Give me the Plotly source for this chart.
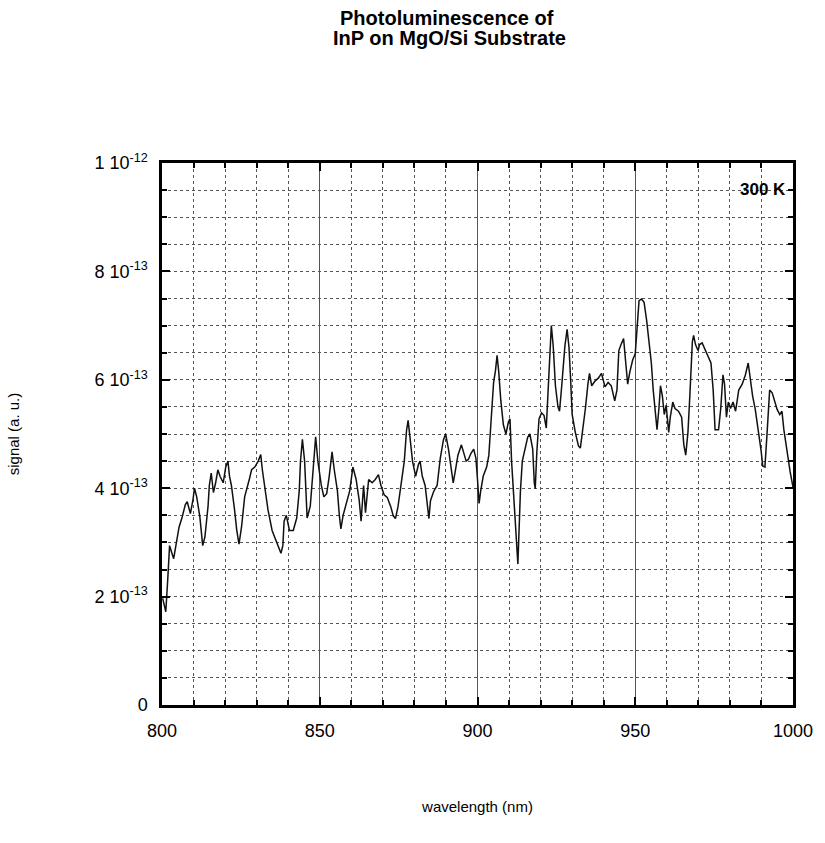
import plotly.graph_objects as go

# wavelength (nm)
wavelength = [800.2, 801.2, 801.8, 802.4, 803.7, 804.4, 805.4, 806.4, 807.4, 808.0, 809.0, 809.8, 810.3, 811.0, 812.0,
              812.9, 813.6, 814.6, 815.0, 815.6, 816.3, 817.0, 817.7, 818.4, 819.4, 820.2, 820.9, 821.4, 822.0, 823.0,
              823.7, 824.4, 825.2, 826.2, 827.0, 827.7, 828.4, 829.4, 830.5, 831.3, 831.8, 832.5, 833.6, 834.9, 836.0,
              837.0, 837.7, 838.3, 838.7, 839.4, 840.4, 841.6, 842.7, 843.5, 843.9, 844.5, 845.2, 846.0, 847.0, 847.9,
              848.7, 849.4, 850.5, 851.3, 852.2, 853.0, 853.9, 854.6, 855.6, 856.2, 856.7, 857.4, 858.2, 859.5, 860.5,
              861.5, 862.5, 863.1, 863.9, 864.5, 865.5, 866.6, 867.6, 868.6, 869.4, 870.4, 871.4, 872.5, 873.3, 874.0,
              874.8, 875.8, 876.8, 877.5, 878.0, 878.6, 879.4, 880.4, 881.3, 881.8, 882.5, 883.4, 884.1, 884.6, 885.1,
              886.1, 887.2, 888.2, 889.2, 889.9, 890.8, 891.6, 892.3, 893.0, 893.8, 894.9, 895.7, 896.4, 897.1, 897.9,
              898.8, 899.5, 900.0, 900.5, 901.0, 901.8, 902.9, 903.6, 904.1, 904.6, 905.1, 905.7, 906.2, 906.7, 907.4,
              908.2, 909.0, 909.8, 910.3, 910.8, 911.3, 911.8, 912.3, 912.8, 913.1, 913.6, 914.2, 914.9, 915.9, 916.6,
              917.5, 918.0, 918.3, 918.8, 919.5, 920.3, 921.1, 921.8, 922.4, 922.9, 923.4, 924.0, 924.7, 925.5, 926.0,
              926.7, 927.7, 928.4, 929.0, 929.5, 930.0, 931.0, 932.0, 932.6, 933.3, 934.2, 935.0, 935.5, 936.2, 937.3,
              938.3, 939.3, 940.4, 941.4, 942.4, 943.5, 944.2, 944.8, 945.5, 946.3, 946.9, 947.6, 948.3, 949.2, 950.0,
              950.5, 951.2, 952.0, 952.8, 953.6, 954.3, 955.1, 955.7, 956.4, 956.9, 957.5, 958.0, 958.6, 959.2, 959.8,
              960.6, 961.1, 961.9, 962.6, 963.7, 964.7, 965.4, 966.0, 966.7, 967.3, 968.1, 968.5, 969.1, 969.9, 970.4,
              971.2, 971.9, 973.0, 974.0, 974.7, 975.3, 976.4, 977.1, 977.8, 978.3, 978.9, 979.5, 980.2, 981.0, 981.8,
              982.8, 983.9, 984.9, 985.8, 986.4, 987.2, 988.0, 989.0, 989.9, 990.4, 991.1, 991.8, 992.6, 993.4, 994.2,
              995.0, 995.8, 996.5, 997.1, 997.8, 998.3, 999.1, 1000.0]

# signal in units of 1e-13 (a.u.)
signal_e13 = [1.97, 1.72, 2.30, 2.94, 2.70, 2.97, 3.28, 3.47, 3.70, 3.75, 3.53, 3.78, 4.00, 3.84, 3.47,
              2.94, 3.10, 3.67, 4.05, 4.28, 3.92, 4.10, 4.34, 4.22, 4.10, 4.39, 4.50, 4.22, 4.05, 3.60,
              3.22, 2.97, 3.28, 3.84, 4.00, 4.17, 4.34, 4.39, 4.50, 4.62, 4.34, 4.05, 3.60, 3.22, 3.05,
              2.90, 2.80, 2.94, 3.39, 3.50, 3.22, 3.22, 3.45, 3.95, 4.50, 4.90, 4.50, 3.45, 3.67, 4.34,
              4.95, 4.50, 4.05, 3.84, 3.90, 4.22, 4.67, 4.34, 3.95, 3.50, 3.25, 3.50, 3.67, 3.95, 4.39,
              4.17, 3.78, 3.39, 4.05, 3.55, 4.16, 4.10, 4.16, 4.25, 4.05, 3.88, 3.83, 3.66, 3.49, 3.44,
              3.66, 4.05, 4.50, 5.06, 5.25, 4.94, 4.50, 4.22, 4.44, 4.50, 4.22, 4.05, 3.72, 3.44, 3.77,
              3.94, 4.05, 4.55, 4.89, 5.00, 4.72, 4.39, 4.10, 4.33, 4.61, 4.80, 4.66, 4.50, 4.53, 4.64,
              4.72, 4.55, 4.16, 3.72, 3.94, 4.22, 4.39, 4.61, 5.06, 5.50, 5.95, 6.17, 6.45, 6.17, 5.61,
              5.17, 5.00, 5.22, 5.28, 4.50, 4.05, 3.60, 3.10, 2.60, 3.10, 3.94, 4.50, 4.66, 4.94, 5.00,
              4.72, 4.10, 3.99, 4.66, 5.28, 5.39, 5.34, 5.11, 5.84, 6.62, 7.00, 6.62, 5.89, 5.50, 5.42,
              5.89, 6.62, 6.93, 6.60, 6.03, 5.36, 5.03, 4.78, 4.74, 5.03, 5.47, 5.92, 6.12, 5.89, 5.98,
              6.03, 6.12, 5.87, 5.95, 5.89, 5.61, 5.81, 6.54, 6.65, 6.76, 6.37, 5.92, 6.15, 6.37, 6.48,
              6.98, 7.46, 7.49, 7.43, 7.10, 6.70, 6.31, 5.81, 5.36, 5.08, 5.47, 5.89, 5.70, 5.36, 5.53,
              5.03, 5.31, 5.59, 5.47, 5.42, 5.31, 4.80, 4.61, 5.03, 5.70, 6.70, 6.82, 6.65, 6.54, 6.65,
              6.68, 6.59, 6.45, 6.31, 5.81, 5.08, 5.08, 5.47, 6.09, 5.92, 5.31, 5.59, 5.47, 5.59, 5.42,
              5.81, 5.92, 6.09, 6.31, 6.03, 5.70, 5.47, 5.08, 4.69, 4.41, 4.39, 5.03, 5.81, 5.76, 5.59,
              5.45, 5.36, 5.42, 5.08, 4.80, 4.58, 4.30, 4.02]

signal = [v * 1e-13 for v in signal_e13]

x_tick_vals = [800, 850, 900, 950, 1000]
x_tick_text = ["800", "850", "900", "950", "1000"]
y_tick_vals = [0, 2e-13, 4e-13, 6e-13, 8e-13, 1e-12]
y_tick_text = ["0", "2 10<sup>-13</sup>", "4 10<sup>-13</sup>", "6 10<sup>-13</sup>",
               "8 10<sup>-13</sup>", "1 10<sup>-12</sup>"]

title_lines = ["Photoluminescence of", "InP on MgO/Si Substrate"]
x_title = "wavelength (nm)"
y_title = "signal (a. u.)"
temp_label = "<b>300 K</b>"

FONT = "Liberation Sans Narrow, Liberation Sans, Arial, sans-serif"
TFONT = "Liberation Sans, Arial, sans-serif"

fig = go.Figure()
fig.add_trace(go.Scatter(x=wavelength, y=signal, mode="lines",
                         line=dict(color="#111111", width=1.5), showlegend=False))

fig.update_layout(
    width=825, height=843,
    margin=dict(l=160, r=25, t=163, b=138),
    paper_bgcolor="white", plot_bgcolor="white",
    font=dict(family=FONT, color="black", size=16),
    annotations=[
        dict(text="<b>" + title_lines[0] + "</b>", x=0.452, y=1.268, xref="paper", yref="paper",
             xanchor="center", yanchor="middle", showarrow=False,
             font=dict(family=TFONT, size=20, color="black")),
        dict(text="<b>" + title_lines[1] + "</b>", x=0.456, y=1.231, xref="paper", yref="paper",
             xanchor="center", yanchor="middle", showarrow=False,
             font=dict(family=TFONT, size=20, color="black")),
        dict(text=temp_label, x=998.5, y=0.952e-12, xref="x", yref="y",
             xanchor="right", yanchor="middle", showarrow=False,
             font=dict(family=TFONT, size=17, color="black")),
    ],
)

fig.update_xaxes(
    range=[800, 1000], tickvals=x_tick_vals, ticktext=x_tick_text,
    showline=True, linecolor="black", linewidth=2.5, mirror="allticks",
    ticks="inside", ticklen=8, tickwidth=2, tickcolor="black",
    showgrid=True, gridcolor="#555555", gridwidth=1,
    minor=dict(dtick=10, tick0=800, showgrid=True, gridcolor="#555555", griddash="dot",
               gridwidth=1, ticks="inside", ticklen=5, tickcolor="black", tickwidth=1.5),
    title=dict(text=x_title, standoff=62, font=dict(size=15)),
    tickfont=dict(size=18), ticklabelstandoff=8,
    zeroline=False,
)
fig.update_yaxes(
    range=[0, 1e-12], tickvals=y_tick_vals, ticktext=y_tick_text,
    showline=True, linecolor="black", linewidth=2.5, mirror="allticks",
    ticks="inside", ticklen=8, tickwidth=2, tickcolor="black",
    showgrid=True, gridcolor="#555555", gridwidth=1, griddash="dot",
    minor=dict(dtick=0.5e-13, tick0=0, showgrid=True, gridcolor="#555555", griddash="dot",
               gridwidth=1, ticks="inside", ticklen=5, tickcolor="black", tickwidth=1.5),
    title=dict(text=y_title, standoff=72, font=dict(size=15)),
    tickfont=dict(size=18), ticklabelstandoff=8,
    zeroline=False,
)

fig.write_html("out.html")
